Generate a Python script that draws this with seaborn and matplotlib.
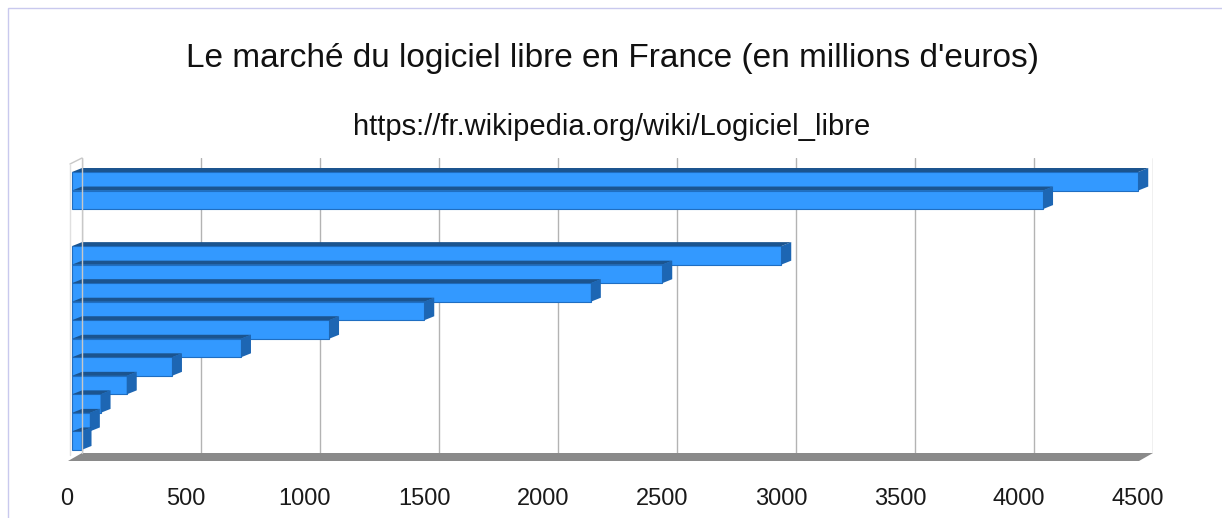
import numpy as np
import pandas as pd
import matplotlib
matplotlib.use('Agg')
import matplotlib.pyplot as plt
import matplotlib.transforms as mtransforms
from matplotlib.patches import Polygon, Rectangle
import seaborn as sns

# Data (top bar first); two slots have no bar
years = ['2016', '2015', '2014', '2013', '2012', '2011', '2010', '2009',
         '2008', '2007', '2006', '2005', '2004', '2003', '2002']
market = [4480, 4080, np.nan, np.nan, 2980, 2480, 2180, 1480,
          1080, 710, 420, 230, 120, 75, 40]
xticks = [0, 500, 1000, 1500, 2000, 2500, 3000, 3500, 4000, 4500]

title = "Le marché du logiciel libre en France (en millions d'euros)"
subtitle = "https://fr.wikipedia.org/wiki/Logiciel_libre"

W, H = 1222, 518
sns.set_theme(style='white')
plt.rcParams['font.family'] = ['Liberation Sans', 'DejaVu Sans']

fig = plt.figure(figsize=(W / 100, H / 100), dpi=100)
fig.patch.set_facecolor('white')

# plot area (back wall) in pixels
left_px, right_px, top_px, bot_px = 82, 1153, 158, 453
ax = fig.add_axes([left_px / W, 1 - bot_px / H,
                   (right_px - left_px) / W, (bot_px - top_px) / H])
ax.set_facecolor('none')

df = pd.DataFrame({'year': years, 'value': market})
sns.barplot(data=df, y='year', x='value', order=years, orient='h',
            color='#3399ff', width=1.0, saturation=1, ax=ax, zorder=3)

ax.set_xlim(0, 4500)
ax.set_ylim(14.88, -1.04)
ax.set_xticks(xticks)
ax.set_xticklabels([str(t) for t in xticks])
ax.set_yticks([])
ax.set_xlabel('')
ax.set_ylabel('')
for s in ax.spines.values():
    s.set_visible(False)
ax.grid(axis='x', color='#b3b3b3', linewidth=1, zorder=0)
ax.grid(axis='y', visible=False)
ax.tick_params(axis='x', length=0, pad=25, labelsize=17, labelcolor='#1a1a1a')

# depth offset of the fake 3D front face
dx, dy = 10, 4
shift = mtransforms.ScaledTranslation(-dx / 100, -dy / 100, fig.dpi_scale_trans)

def fig_poly(pts, **kw):
    pts = np.array(pts, dtype=float)
    pts[:, 0] /= W
    pts[:, 1] /= H
    fig.add_artist(Polygon(pts, closed=True, transform=fig.transFigure, **kw))

fig.canvas.draw()
for p in ax.patches:
    w = p.get_width()
    if not np.isfinite(w) or w <= 0:
        p.set_visible(False)
        continue
    x0, y0 = p.get_x(), p.get_y()
    (L, B), (R, T) = ax.transData.transform([(x0, y0 + p.get_height()), (x0 + w, y0)])
    # side face and top face
    fig_poly([(R, T), (R, B), (R - dx, B - dy), (R - dx, T - dy)],
             facecolor='#1d66b3', edgecolor='none', zorder=2)
    fig_poly([(L, T), (R, T), (R - dx, T - dy), (L - dx, T - dy)],
             facecolor='#1b548f', edgecolor='none', zorder=2)
    p.set_transform(ax.transData + shift)
    p.set_clip_on(False)
    p.set_edgecolor('#1f6ec2')
    p.set_linewidth(0.8)

# floor slab and left wall
fig_poly([(left_px, H - bot_px), (right_px, H - bot_px),
          (right_px - 14, H - bot_px - 8), (left_px - 14, H - bot_px - 8)],
         facecolor='#8a8a8a', edgecolor='none', zorder=1)
wall_col = '#c8c8c8'
fig.add_artist(plt.Line2D([left_px / W, left_px / W], [1 - top_px / H, 1 - bot_px / H],
                          color=wall_col, lw=1, transform=fig.transFigure))
fig.add_artist(plt.Line2D([left_px / W, (left_px - 12) / W], [1 - top_px / H, 1 - (top_px + 6) / H],
                          color=wall_col, lw=1, transform=fig.transFigure))
fig.add_artist(plt.Line2D([(left_px - 12) / W, (left_px - 12) / W], [1 - (top_px + 6) / H, 1 - (bot_px + 2) / H],
                          color='#e0e0e0', lw=1, transform=fig.transFigure))

# tick labels sit on the front plane
for lab in ax.get_xticklabels():
    lab.set_transform(lab.get_transform() +
                      mtransforms.ScaledTranslation(-0.15, 0, fig.dpi_scale_trans))

fig.text(613 / W, 1 - 67 / H, title, ha='center', va='baseline', fontsize=24, color='#111111')
fig.text(612 / W, 1 - 135 / H, subtitle, ha='center', va='baseline', fontsize=21, color='#111111')

# thin frame around the chart
fig.add_artist(Rectangle((8 / W, -0.05), 1.1, 1 - 8 / H + 0.05, transform=fig.transFigure,
                         fill=False, edgecolor='#c9c9ee', lw=1))

fig.savefig('out.png', dpi=100, facecolor='white')
